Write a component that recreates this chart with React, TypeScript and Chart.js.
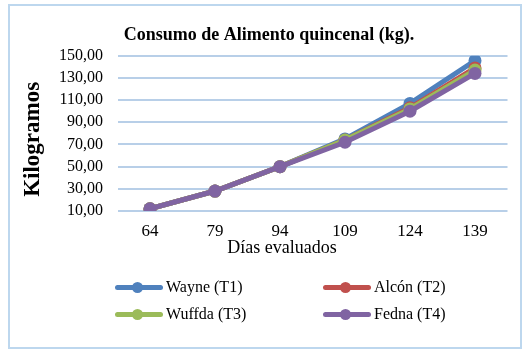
import React, { useEffect, useRef } from "react";
import { Chart, registerables } from "chart.js";

Chart.register(...registerables);

const categories = ["64", "79", "94", "109", "124", "139"];
const wayne = [12, 28, 50, 75, 107, 145.5];
const alcon = [12, 28, 50, 74, 103, 139];
const wuffda = [12, 28, 50, 74, 102, 137];
const fedna = [12, 28, 50, 72, 100, 134];
const seriesNames = ["Wayne (T1)", "Alcón (T2)", "Wuffda (T3)", "Fedna (T4)"];
const seriesColors = ["#4f81bd", "#c0504d", "#9bbb59", "#8064a2"];
const seriesValues = [wayne, alcon, wuffda, fedna];
const yTitle = "Kilogramos";
const xTitle = "Días evaluados";
const chartTitle = "Consumo de Alimento quincenal (kg).";

const SERIF = "'Liberation Serif', 'Times New Roman', serif";

const axisTitlePlugin = {
  id: "axisTitles",
  afterDraw(chart: any) {
    const ctx = chart.ctx;
    const area = chart.chartArea;
    ctx.save();
    ctx.fillStyle = "#000";
    ctx.textAlign = "center";
    ctx.textBaseline = "middle";
    ctx.font = `bold 23px ${SERIF}`;
    ctx.translate(33.5, (area.top + area.bottom) / 2 + 6);
    ctx.rotate(-Math.PI / 2);
    ctx.fillText(yTitle, 0, 0);
    ctx.restore();
    ctx.save();
    ctx.fillStyle = "#000";
    ctx.textAlign = "center";
    ctx.textBaseline = "middle";
    ctx.font = `18px ${SERIF}`;
    ctx.fillText(xTitle, 282, area.bottom + 37);
    ctx.restore();
  },
};

export default function App() {
  const ref = useRef<HTMLCanvasElement | null>(null);

  useEffect(() => {
    if (!ref.current) return;
    const chart = new Chart(ref.current, {
      type: "line",
      data: {
        labels: categories,
        datasets: seriesValues.map((vals, i) => ({
          label: seriesNames[i],
          data: vals,
          borderColor: seriesColors[i],
          backgroundColor: seriesColors[i],
          pointBackgroundColor: seriesColors[i],
          pointBorderColor: seriesColors[i],
          borderWidth: 5,
          pointRadius: 6.5,
          pointBorderWidth: 0,
          tension: 0,
          order: 3 - i,
        })),
      },
      options: {
        animation: false,
        responsive: false,
        maintainAspectRatio: false,
        layout: { padding: { left: 30.5, right: 24.5, top: 0, bottom: 91 } },
        plugins: {
          legend: { display: false },
          tooltip: { enabled: false },
          title: {
            display: true,
            text: chartTitle,
            color: "#000",
            font: { family: SERIF, size: 18, weight: "bold" },
            padding: { top: 24.2, bottom: 9.9 },
          },
        },
        scales: {
          x: {
            grid: { display: false, drawTicks: false },
            border: { display: false },
            offset: true,
            ticks: {
              color: "#000",
              font: { family: SERIF, size: 17 },
              padding: 10.8,
              maxRotation: 0,
              autoSkip: false,
            },
            afterFit: (s: any) => {
              s.height = 50;
            },
          },
          y: {
            min: 10,
            max: 150,
            grid: { color: "#b8cfe8", lineWidth: 2, drawTicks: false },
            border: { display: false },
            ticks: {
              stepSize: 20,
              autoSkip: false,
              color: "#000",
              padding: 14.5,
              font: { family: SERIF, size: 16 },
              callback: (v: any) => Number(v).toFixed(2).replace(".", ","),
            },
            afterFit: (s: any) => {
              s.width = 87;
            },
          },
        },
      },
      plugins: [axisTitlePlugin],
    });
    return () => chart.destroy();
  }, []);

  const legendItem = (i: number, left: number, top: number) => (
    <div
      key={i}
      style={{
        position: "absolute",
        left,
        top,
        height: 20,
        display: "flex",
        alignItems: "center",
        fontFamily: SERIF,
        fontSize: 16,
        color: "#000",
        whiteSpace: "nowrap",
      }}
    >
      <div style={{ position: "relative", width: 48, height: 20, marginRight: 3 }}>
        <div
          style={{
            position: "absolute",
            left: 0,
            top: 7.5,
            width: 48,
            height: 5,
            borderRadius: 2.5,
            background: seriesColors[i],
          }}
        />
        <div
          style={{
            position: "absolute",
            left: 17,
            top: 4.5,
            width: 11,
            height: 11,
            borderRadius: 5.5,
            background: seriesColors[i],
          }}
        />
      </div>
      <span>{seriesNames[i]}</span>
    </div>
  );

  return (
    <div style={{ position: "fixed", left: 0, top: 0, width: 532, height: 352, background: "#fff" }}>
      <canvas ref={ref} width={532} height={352} style={{ position: "absolute", left: 0, top: 0 }} />
      <div
        style={{
          position: "absolute",
          left: 8,
          top: 4,
          width: 514,
          height: 345,
          boxSizing: "border-box",
          border: "2px solid #bdd7ee",
          pointerEvents: "none",
        }}
      />
      {legendItem(0, 115, 277)}
      {legendItem(1, 323, 277)}
      {legendItem(2, 115, 304)}
      {legendItem(3, 323, 304)}
    </div>
  );
}
